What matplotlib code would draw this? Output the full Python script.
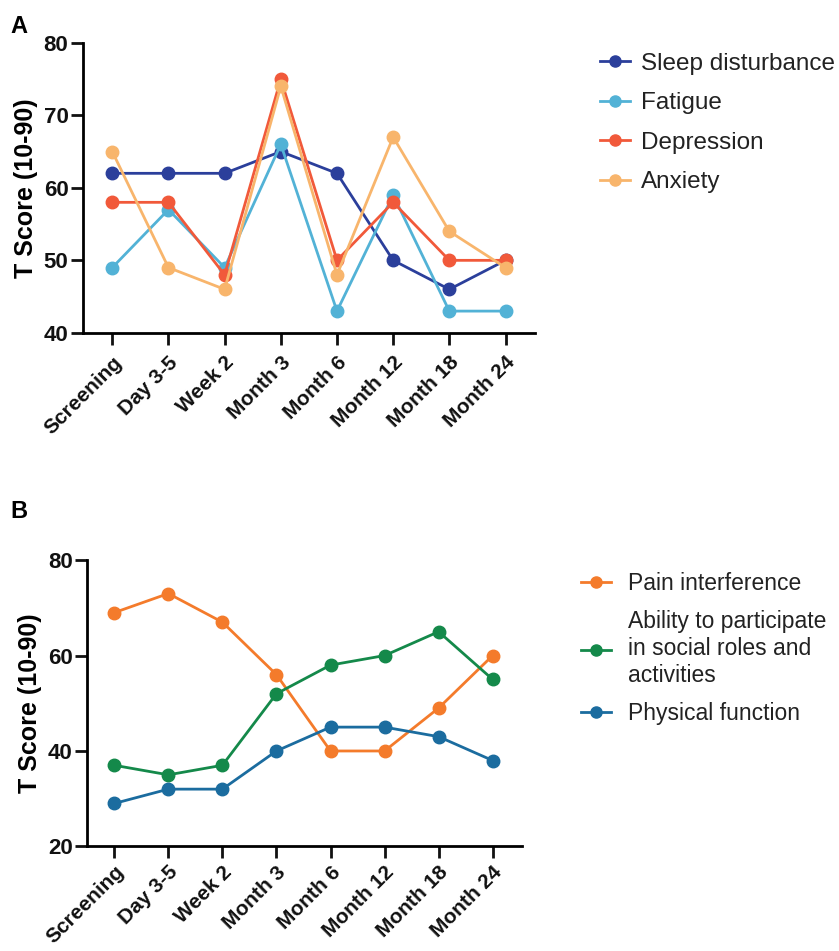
import matplotlib.pyplot as plt
from matplotlib.lines import Line2D

plt.rcParams['font.family'] = ['Liberation Sans', 'DejaVu Sans']

timepoints = ["Screening", "Day 3-5", "Week 2", "Month 3", "Month 6",
              "Month 12", "Month 18", "Month 24"]

# Panel A
sleep = [62, 62, 62, 65, 62, 50, 46, 50]
fatigue = [49, 57, 49, 66, 43, 59, 43, 43]
depression = [58, 58, 48, 75, 50, 58, 50, 50]
anxiety = [65, 49, 46, 74, 48, 67, 54, 49]

# Panel B
pain = [69, 73, 67, 56, 40, 40, 49, 60]
social = [37, 35, 37, 52, 58, 60, 65, 55]
physical = [29, 32, 32, 40, 45, 45, 43, 38]

series_a = [
    ("Sleep disturbance", sleep, "#2b3f9b"),
    ("Fatigue", fatigue, "#52b2d6"),
    ("Depression", depression, "#f1593a"),
    ("Anxiety", anxiety, "#f8b56c"),
]
series_b = [
    ("Pain interference", pain, "#f47b2b"),
    ("Ability to participate\nin social roles and\nactivities", social, "#14894a"),
    ("Physical function", physical, "#1b6c9f"),
]

fig = plt.figure(figsize=(8.39, 9.51), dpi=100)
ax_a = fig.add_axes([0.099, 0.650, 0.539, 0.305])
ax_b = fig.add_axes([0.104, 0.110, 0.518, 0.301])

x = list(range(len(timepoints)))


def style_axes(ax, ylim, yticks, xlim, xpad):
    ax.set_xlim(*xlim)
    ax.set_ylim(*ylim)
    ax.set_yticks(yticks)
    ax.set_xticks(x)
    ax.set_xticklabels(timepoints, rotation=45, ha='right', rotation_mode='anchor',
                       fontsize=15, fontweight='bold')
    for lab in ax.get_yticklabels():
        lab.set_fontsize(16)
        lab.set_fontweight('bold')
    ax.set_ylabel("T Score (10-90)", fontsize=18, fontweight='bold', labelpad=4)
    for side in ['top', 'right']:
        ax.spines[side].set_visible(False)
    for side in ['left', 'bottom']:
        ax.spines[side].set_linewidth(2)
    ax.tick_params(width=2, length=8.5, colors='#111111', pad=2)
    ax.tick_params(axis='x', pad=xpad)


handles_a = []
for name, vals, col in series_a:
    ax_a.plot(x, vals, color=col, lw=2, marker='o', ms=9, clip_on=False)
    handles_a.append(Line2D([], [], color=col, lw=2, marker='o', ms=8))
style_axes(ax_a, (40, 80), [40, 50, 60, 70, 80], (-0.52, 7.53), 6)
ax_a.legend(handles_a, [s[0] for s in series_a], loc='upper left',
            bbox_to_anchor=(1.105, 1.025), frameon=False, fontsize=17.5,
            handlelength=1.25, labelspacing=0.72, handletextpad=0.45,
            borderpad=0.2, labelcolor='#222222')

handles_b = []
for name, vals, col in series_b:
    ax_b.plot(x, vals, color=col, lw=2, marker='o', ms=9, clip_on=False)
    handles_b.append(Line2D([], [], color=col, lw=2, marker='o', ms=8))
style_axes(ax_b, (20, 80), [20, 40, 60, 80], (-0.5, 7.54), 3)
ax_b.legend(handles_b, [s[0] for s in series_b], loc='upper left',
            bbox_to_anchor=(1.10, 1.015), frameon=False, fontsize=16.5,
            handlelength=1.3, labelspacing=0.68, handletextpad=0.75,
            borderpad=0.2, labelcolor='#222222')

fig.text(0.012, 0.972, "A", fontsize=17, fontweight='bold', va='center')
fig.text(0.012, 0.462, "B", fontsize=17, fontweight='bold', va='center')

fig.savefig("out.png", dpi=100, facecolor='white')
